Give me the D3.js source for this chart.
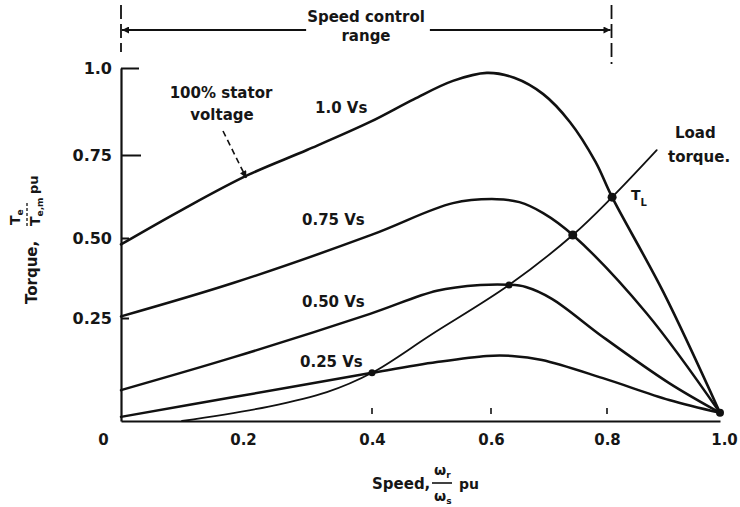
<!DOCTYPE html>
<html>
<head>
<meta charset="utf-8">
<script src="https://cdn.jsdelivr.net/npm/d3@7"></script>
<style>
  body { margin: 0; background: #fff; }
  svg text { font-family: "DejaVu Sans", sans-serif; font-weight: bold; fill: #161616; }
</style>
</head>
<body>
<svg id="chart" width="740" height="507"></svg>
<script>
// axis ticks
const speedTicks = [0, 0.2, 0.4, 0.6, 0.8, 1.0];
const speedTickLabels = ["0", "0.2", "0.4", "0.6", "0.8", "1.0"];
const torqueTicks = [0.25, 0.5, 0.75, 1.0];
const torqueTickLabels = ["0.25", "0.50", "0.75", "1.0"];

// torque-speed curves (speed pu, torque pu)
const speed100 = [0, 0.1, 0.208, 0.3, 0.397, 0.47, 0.536, 0.593, 0.64, 0.69, 0.736, 0.78, 0.809, 0.9, 1.0];
const torque100 = [0.48, 0.585, 0.69, 0.765, 0.845, 0.91, 0.963, 0.986, 0.972, 0.925, 0.845, 0.73, 0.623, 0.33, 0.02];

const speed75 = [0, 0.185, 0.4, 0.536, 0.61, 0.649, 0.69, 0.741, 0.87, 1.0];
const torque75 = [0.255, 0.36, 0.51, 0.605, 0.617, 0.608, 0.575, 0.509, 0.265, 0.02];

const speed50 = [0, 0.185, 0.397, 0.509, 0.582, 0.63, 0.66, 0.705, 0.793, 0.91, 1.0];
const torque50 = [0.075, 0.155, 0.263, 0.335, 0.353, 0.354, 0.347, 0.31, 0.204, 0.092, 0.02];

const speed25 = [0, 0.185, 0.4, 0.509, 0.593, 0.636, 0.688, 0.793, 0.91, 1.0];
const torque25 = [0.01, 0.058, 0.117, 0.143, 0.158, 0.158, 0.148, 0.104, 0.051, 0.02];

const speedLoad = [0.1, 0.24, 0.33, 0.4, 0.5, 0.631, 0.741, 0.809, 0.888];
const torqueLoad = [0, 0.035, 0.07, 0.117, 0.21, 0.353, 0.509, 0.623, 0.764];

// operating points (load line meets each voltage curve)
const opSpeed = [0.4, 0.631, 0.741, 0.809];
const opTorque = [0.117, 0.353, 0.509, 0.623];

const controlRange = [0, 0.808];

const svg = d3.select("#chart");

// the printed axes are not quite evenly spaced, so map tick to tick
const x = d3.scaleLinear().domain(speedTicks).range([121, 243, 372, 491, 607, 720]);
const y = d3.scaleLinear().domain([0, 0.25, 0.5, 0.75, 1]).range([421, 318, 238, 155, 68]);

const zip = (a, b) => a.map((v, i) => [v, b[i]]);

const defs = svg.append("defs");
defs.append("marker")
    .attr("id", "head")
    .attr("viewBox", "0 0 10 10")
    .attr("refX", 10).attr("refY", 5)
    .attr("markerWidth", 9).attr("markerHeight", 7)
    .attr("markerUnits", "userSpaceOnUse")
    .attr("orient", "auto")
    .append("path").attr("d", "M0,0L10,5L0,10z").attr("fill", "#111");

// axes
const xAxis = svg.append("g")
    .attr("transform", `translate(0,${y(0)})`)
    .call(d3.axisBottom(x)
        .tickValues(speedTicks)
        .tickFormat((d, i) => speedTickLabels[i])
        .tickSizeInner(0).tickSizeOuter(0).tickPadding(13));
xAxis.select(".domain").attr("stroke", "#111").attr("stroke-width", 2.2);
xAxis.selectAll(".tick text")
    .style("font-size", "15px")
    .attr("dx", (d, i) => i === 0 ? -18 : (i === speedTicks.length - 1 ? 4 : 0));

svg.append("g").selectAll("line")
    .data(speedTicks.filter(d => d > 0.3 && d < 0.9))
    .join("line")
    .attr("x1", d => x(d)).attr("x2", d => x(d))
    .attr("y1", y(0) - 13).attr("y2", y(0) - 7)
    .attr("stroke", "#111").attr("stroke-width", 1.6);

const yAxis = svg.append("g")
    .attr("transform", `translate(${x(0)},0)`)
    .call(d3.axisLeft(y)
        .tickValues(torqueTicks)
        .tickFormat((d, i) => torqueTickLabels[i])
        .tickSizeInner(-18).tickSizeOuter(0).tickPadding(9));
yAxis.select(".domain").attr("stroke", "#111").attr("stroke-width", 2.2);
yAxis.selectAll(".tick line")
    .attr("stroke", "#111").attr("stroke-width", 2)
    .attr("x2", (d, i) => [8, 8, 20, 18][i]);
yAxis.selectAll(".tick text").style("font-size", "16px");

// curves
const line = d3.line()
    .x(d => x(d[0]))
    .y(d => y(d[1]))
    .curve(d3.curveCatmullRom.alpha(0.5));

const curves = [
    { pts: zip(speed100, torque100), w: 2.6 },
    { pts: zip(speed75, torque75), w: 2.5 },
    { pts: zip(speed50, torque50), w: 2.5 },
    { pts: zip(speed25, torque25), w: 2.5 },
    { pts: zip(speedLoad, torqueLoad), w: 1.8 }
];

svg.append("g").selectAll("path")
    .data(curves)
    .join("path")
    .attr("d", d => line(d.pts))
    .attr("fill", "none")
    .attr("stroke", "#111")
    .attr("stroke-width", d => d.w)
    .attr("stroke-linejoin", "round")
    .attr("stroke-linecap", "round");

svg.append("g").selectAll("circle")
    .data(zip(opSpeed, opTorque))
    .join("circle")
    .attr("cx", d => x(d[0]))
    .attr("cy", d => y(d[1]))
    .attr("r", (d, i) => i < 2 ? 3.5 : 4.5)
    .attr("fill", "#111");

svg.append("circle")
    .attr("cx", x(1)).attr("cy", y(0.02)).attr("r", 4).attr("fill", "#111");

// speed control range header
const topTxt = svg.append("text")
    .attr("x", 366).attr("y", 22)
    .attr("text-anchor", "middle")
    .style("font-size", "15px")
    .text("Speed control");
svg.append("text")
    .attr("x", 366).attr("y", 41)
    .attr("text-anchor", "middle")
    .style("font-size", "15px")
    .text("range");

const bb = topTxt.node().getBBox();
svg.append("line")
    .attr("x1", bb.x - 1).attr("x2", x(controlRange[0]) + 1)
    .attr("y1", 30).attr("y2", 30)
    .attr("stroke", "#111").attr("stroke-width", 2)
    .attr("marker-end", "url(#head)");
svg.append("line")
    .attr("x1", bb.x + bb.width + 5).attr("x2", x(controlRange[1]) - 1)
    .attr("y1", 30).attr("y2", 30)
    .attr("stroke", "#111").attr("stroke-width", 2)
    .attr("marker-end", "url(#head)");

svg.append("g").selectAll("line")
    .data(controlRange)
    .join("line")
    .attr("x1", d => x(d)).attr("x2", d => x(d))
    .attr("y1", 5).attr("y2", (d, i) => i ? 64 : 52)
    .attr("stroke", "#111").attr("stroke-width", 1.8)
    .attr("stroke-dasharray", "14,5");

// annotations
const ann = [
    ["100% stator", 221, 98, "middle"],
    ["voltage", 222, 120, "middle"],
    ["1.0 Vs", 315, 113, "start"],
    ["0.75 Vs", 302, 225, "start"],
    ["0.50 Vs", 302, 307, "start"],
    ["0.25 Vs", 300, 367, "start"],
    ["Load", 675, 138, "start"],
    ["torque.", 668, 162, "start"]
];
svg.append("g").selectAll("text")
    .data(ann)
    .join("text")
    .attr("x", d => d[1]).attr("y", d => d[2])
    .attr("text-anchor", d => d[3])
    .style("font-size", "15px")
    .text(d => d[0]);

svg.append("line")
    .attr("x1", 223).attr("y1", 131)
    .attr("x2", x(0.205)).attr("y2", y(0.69) + 3)
    .attr("stroke", "#111").attr("stroke-width", 1.6)
    .attr("stroke-dasharray", "6,4")
    .attr("marker-end", "url(#head)");

const tl = svg.append("text").attr("x", 631).attr("y", 200).style("font-size", "14px");
tl.append("tspan").text("T");
tl.append("tspan").attr("dy", 6).style("font-size", "10px").text("L");

// y axis title (rotated)
const yt = svg.append("g").attr("transform", "rotate(-90)");
yt.append("text").attr("x", -304).attr("y", 37).style("font-size", "15px").text("Torque,");
const ynum = yt.append("text").attr("x", -225).attr("y", 20).style("font-size", "14px");
ynum.append("tspan").text("T");
ynum.append("tspan").attr("dy", 3).style("font-size", "9px").text("e");
yt.append("line")
    .attr("x1", -226).attr("x2", -203).attr("y1", 27).attr("y2", 27)
    .attr("stroke", "#111").attr("stroke-width", 1.3).attr("stroke-dasharray", "3,2");
const yden = yt.append("text").attr("x", -226).attr("y", 40).style("font-size", "14px");
yden.append("tspan").text("T");
yden.append("tspan").attr("dy", 3).style("font-size", "9px").text("e,m");
yt.append("text").attr("x", -194).attr("y", 38).style("font-size", "13px").text("pu");

// x axis title
svg.append("text").attr("x", 372).attr("y", 489).style("font-size", "15px").text("Speed,");
const xnum = svg.append("text").attr("x", 434).attr("y", 475).style("font-size", "14px");
xnum.append("tspan").text("ω");
xnum.append("tspan").attr("dy", 3).style("font-size", "9px").text("r");
svg.append("line")
    .attr("x1", 432).attr("x2", 452).attr("y1", 483).attr("y2", 483)
    .attr("stroke", "#111").attr("stroke-width", 1.6);
const xden = svg.append("text").attr("x", 434).attr("y", 501).style("font-size", "14px");
xden.append("tspan").text("ω");
xden.append("tspan").attr("dy", 3).style("font-size", "9px").text("s");
svg.append("text").attr("x", 459).attr("y", 489).style("font-size", "14px").text("pu");
</script>
</body>
</html>
